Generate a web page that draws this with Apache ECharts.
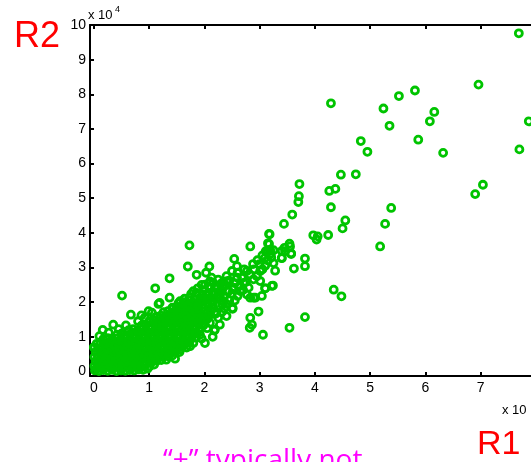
<!DOCTYPE html>
<html>
<head>
<meta charset="utf-8">
<script src="https://cdn.jsdelivr.net/npm/echarts@6/dist/echarts.min.js"></script>
<style>
html,body{margin:0;padding:0;background:#fff;}
#chart{width:531px;height:462px;}
</style>
</head>
<body>
<div id="chart"></div>
<script>
// Axis ticks (values in units of 10^4)
var xTicks = [0, 1, 2, 3, 4, 5, 6, 7];
var yTicks = [0, 1, 2, 3, 4, 5, 6, 7, 8, 9, 10];

// Dense core of the cloud [R1, R2] (x 10^4)
var corePoints = [
[0.02,0.03],[0.09,0.01],[0.17,0.04],[0.25,0.02],[0.33,0.05],[0.41,0.01],[0.49,0.03],[0.57,0.02],[0.65,0.04],[0.73,0.03],[0.81,0.06],[0.89,0.05],[0.97,0.08],
[0.01,0.16],[0.06,0.12],[0.13,0.17],[0.21,0.14],[0.29,0.18],[0.37,0.13],[0.45,0.16],[0.53,0.15],[0.61,0.18],[0.69,0.14],[0.77,0.17],[0.85,0.16],[0.93,0.19],[1.01,0.15],[1.09,0.20],
[0.03,0.29],[0.10,0.26],[0.18,0.30],[0.26,0.27],[0.34,0.31],[0.42,0.28],[0.50,0.30],[0.58,0.27],[0.66,0.31],[0.74,0.28],[0.82,0.30],[0.90,0.27],[0.98,0.32],[1.06,0.29],[1.14,0.31],[1.22,0.33],
[0.01,0.42],[0.07,0.40],[0.15,0.43],[0.23,0.41],[0.31,0.44],[0.39,0.40],[0.47,0.43],[0.55,0.42],[0.63,0.45],[0.71,0.41],[0.79,0.44],[0.87,0.42],[0.95,0.45],[1.03,0.41],[1.11,0.44],[1.19,0.42],[1.27,0.45],[1.35,0.43],[1.42,0.46],
[0.03,0.56],[0.11,0.53],[0.19,0.57],[0.27,0.54],[0.35,0.57],[0.43,0.55],[0.51,0.58],[0.59,0.54],[0.67,0.57],[0.75,0.55],[0.83,0.58],[0.91,0.54],[0.99,0.57],[1.07,0.55],[1.15,0.58],[1.23,0.54],[1.31,0.57],[1.39,0.55],[1.47,0.58],[1.55,0.56],
[0.01,0.69],[0.08,0.67],[0.16,0.70],[0.24,0.68],[0.32,0.71],[0.40,0.67],[0.48,0.70],[0.56,0.68],[0.64,0.71],[0.72,0.67],[0.80,0.70],[0.88,0.68],[0.96,0.71],[1.04,0.67],[1.12,0.70],[1.20,0.68],[1.28,0.71],[1.36,0.67],[1.44,0.70],[1.52,0.68],[1.60,0.71],[1.68,0.69],
[0.05,0.80],[0.12,0.83],[0.20,0.80],[0.28,0.82],[0.36,0.79],[0.44,0.83],[0.52,0.81],[0.60,0.84],[0.68,0.80],[0.76,0.83],[0.84,0.81],[0.92,0.84],[1.00,0.80],[1.08,0.83],[1.16,0.81],[1.24,0.84],[1.32,0.80],[1.40,0.83],[1.48,0.81],[1.56,0.84],[1.64,0.80],[1.72,0.83],[1.80,0.82],
[0.17,0.93],[0.25,0.96],[0.33,0.93],[0.41,0.95],[0.49,0.92],[0.57,0.96],[0.65,0.94],[0.73,0.97],[0.81,0.93],[0.89,0.96],[0.97,0.94],[1.05,0.97],[1.13,0.93],[1.21,0.96],[1.29,0.94],[1.37,0.97],[1.45,0.93],[1.53,0.96],[1.61,0.94],[1.69,0.97],[1.77,0.95],[1.85,0.98],
[0.42,1.06],[0.50,1.09],[0.58,1.05],[0.66,1.08],[0.74,1.06],[0.82,1.09],[0.90,1.05],[0.98,1.08],[1.06,1.06],[1.14,1.09],[1.22,1.05],[1.30,1.08],[1.38,1.06],[1.46,1.09],[1.54,1.05],[1.62,1.08],[1.70,1.06],[1.78,1.09],[1.86,1.11],
[0.63,1.19],[0.71,1.22],[0.79,1.18],[0.87,1.21],[0.95,1.19],[1.03,1.22],[1.11,1.18],[1.19,1.21],[1.27,1.19],[1.35,1.22],[1.43,1.18],[1.51,1.21],[1.59,1.19],[1.67,1.22],[1.75,1.20],[1.83,1.23],[1.91,1.21],
[0.86,1.32],[0.94,1.35],[1.02,1.31],[1.10,1.34],[1.18,1.32],[1.26,1.35],[1.34,1.31],[1.42,1.34],[1.50,1.32],[1.58,1.35],[1.66,1.31],[1.74,1.34],[1.82,1.32],[1.90,1.35],[1.98,1.33],
[1.00,1.45],[1.08,1.48],[1.16,1.44],[1.24,1.47],[1.32,1.45],[1.40,1.48],[1.48,1.44],[1.56,1.47],[1.64,1.45],[1.72,1.48],[1.80,1.44],[1.88,1.47],[1.96,1.46],[2.04,1.49],
[1.13,1.58],[1.21,1.61],[1.29,1.57],[1.37,1.60],[1.45,1.58],[1.53,1.61],[1.61,1.57],[1.69,1.60],[1.77,1.58],[1.85,1.61],[1.93,1.57],[2.01,1.60],[2.09,1.62],
[1.26,1.71],[1.34,1.74],[1.42,1.70],[1.50,1.73],[1.58,1.71],[1.66,1.74],[1.74,1.70],[1.82,1.73],[1.90,1.71],[1.98,1.74],[2.06,1.72],
[1.42,1.84],[1.50,1.87],[1.58,1.83],[1.66,1.86],[1.74,1.84],[1.82,1.87],[1.90,1.83],[1.98,1.86],[2.08,1.88],[2.16,1.85],
[1.53,1.97],[1.62,2.00],[1.70,1.96],[1.79,1.99],[1.88,1.97],[1.97,2.01],[2.06,1.98],[2.15,2.02],
[1.64,2.10],[1.73,2.13],[1.82,2.09],[1.92,2.12],[2.02,2.10],[2.12,2.14],[2.22,2.12],
[1.76,2.24],[1.86,2.27],[1.96,2.23],[2.07,2.26],[2.18,2.25],[2.30,2.28],
[0.05,0.09],[0.21,0.36],[0.46,0.62],[0.62,0.88],[0.78,0.62],[0.94,0.88],[1.10,1.00],[1.26,0.90],[0.54,0.99],[0.70,1.13],
[1.02,0.74],[1.18,0.50],[1.34,0.77],[1.50,1.02],[1.66,1.14],[1.24,1.28],[1.40,1.52],[1.70,1.38],[1.86,1.53],[1.56,1.67]
];

// Rings along the edges of the core
var edgePoints = [
[0.00,0.70],[0.16,1.20],[0.10,1.02],[0.27,1.12],[0.35,1.35],[0.45,1.22],[0.58,1.33],[0.67,1.64],[0.51,2.19],
[0.80,1.45],[0.92,1.55],[0.86,1.62],[0.99,1.74],[1.05,1.70],[1.17,1.95],[1.19,1.98],[1.11,2.40],[1.37,2.13],
[1.31,0.34],[1.47,0.37],[1.56,0.63],[1.74,0.73],[1.68,0.97],[1.92,1.06],[2.01,0.82],[1.83,1.26],[2.18,1.18],
[2.28,1.35],[2.19,1.66],[2.04,1.55],[2.10,1.40],[2.25,1.55],[2.32,1.72],[2.40,1.60],[1.95,0.95],[2.05,1.25],
[2.15,1.00],[1.89,1.93],[1.56,2.03],[1.44,1.83],[1.74,1.74],[1.56,1.83],[2.22,1.69],[2.19,1.21]
];

// Middle band of the cloud
var midPoints = [
[1.37,2.69],[1.73,3.64],[1.70,3.03],[1.86,2.79],[2.03,2.85],[2.09,3.03],[2.13,2.71],[2.16,2.56],[2.01,2.51],
[2.19,2.40],[2.28,2.13],[2.32,1.93],[2.04,2.22],[1.92,2.03],[1.80,2.32],[1.74,2.13],[2.34,2.03],[2.51,1.83],
[2.51,1.81],[2.98,1.73],[2.83,1.55],[2.82,1.26],[2.86,1.35],[3.06,1.06],[2.89,2.13],[3.04,2.18],[3.22,2.47],
[3.10,2.40],[2.65,2.32],[2.77,2.22],[2.52,2.42],[2.52,2.37],[2.41,2.61],[2.32,2.56],[2.34,2.42],[2.71,2.56],
[2.54,3.25],[2.59,3.04],[2.50,2.90],[2.59,2.71],[2.77,2.90],[2.80,2.42],[2.83,2.13],[2.92,2.13],[3.01,2.90],
[2.89,2.66],[3.01,2.61],[3.24,2.48],[3.10,2.40],[2.83,3.61],[3.17,3.97],[3.17,3.68],[3.15,3.47],[3.11,3.47],
[3.21,3.29],[3.09,3.27],[2.96,3.21],[3.40,3.27],[3.46,3.47],[3.55,3.61],[3.57,3.39],[3.28,2.91],[3.25,3.13],
[3.62,2.97],[3.82,3.26],[3.82,3.04],[3.54,3.69],[3.45,3.57],[3.40,3.48],[3.57,3.41],[3.40,3.28],[3.54,1.26],
[3.82,1.57],[3.97,3.93],[4.05,3.90],[4.03,3.81],[4.24,3.94],[3.18,3.96],[3.15,3.70],[3.19,3.51],
[2.00,2.35],[2.08,2.45],[2.15,2.30],[2.22,2.48],[2.10,2.60],[2.25,2.65],[2.30,2.35],[2.38,2.50],[2.45,2.62],
[2.40,2.75],[2.55,2.55],[2.60,2.85],[2.68,2.70],[2.75,2.58],[2.72,2.95],[2.82,2.80],[2.90,2.95],[2.88,3.10],
[2.95,2.75],[3.05,2.95],[3.00,3.10],[3.10,3.05],[3.15,3.20],[3.20,3.40],[3.25,3.50],[3.05,3.35],[2.25,1.90],
[2.35,2.15],[2.45,2.05],[2.12,1.75],[2.05,2.10],[1.95,2.50],[1.88,2.40],[2.50,2.25],[2.62,2.45],[2.70,2.35],
[2.55,2.05],[2.40,1.95],[2.26,2.22],[2.44,2.32],[2.36,1.82],[2.60,2.18],[2.14,1.92]
];

// Sparse outliers
var outlierPoints = [
[7.69,9.76],[6.96,8.28],[5.81,8.11],[5.52,7.95],[4.29,7.74],[5.24,7.59],[6.16,7.49],[6.08,7.22],[7.87,7.22],
[5.35,7.09],[5.87,6.69],[4.83,6.65],[7.70,6.41],[4.95,6.34],[6.32,6.31],[4.74,5.69],[4.47,5.68],[3.72,5.41],
[7.04,5.39],[4.37,5.27],[4.26,5.21],[6.90,5.12],[3.71,5.06],[3.70,4.89],[4.29,4.74],[5.38,4.72],[3.59,4.53],
[4.55,4.36],[3.44,4.26],[5.27,4.26],[4.50,4.13],[5.18,3.61],[4.34,2.36],[4.48,2.17]
];

var allPoints = corePoints.concat(edgePoints, midPoints, outlierPoints);

var GREEN = '#00c400';
var chart = echarts.init(document.getElementById('chart'), null, {renderer: 'canvas'});
var axisFont = {color: '#000', fontFamily: 'Liberation Sans, Arial, sans-serif', fontSize: 14};
var lineStyle = {color: '#000', width: 2};
var X_MIN = -0.07, X_MAX = 7.91, Y_MIN = -0.13, Y_MAX = 10;

chart.setOption({
  animation: false,
  backgroundColor: '#fff',
  grid: {left: 90, top: 25, right: 0, height: 351, containLabel: false},
  xAxis: [{
    type: 'value', min: X_MIN, max: X_MAX, position: 'bottom',
    axisLine: {show: true, onZero: false, lineStyle: lineStyle},
    axisTick: {show: true, inside: true, length: 4, customValues: xTicks, lineStyle: lineStyle},
    axisLabel: Object.assign({show: true, margin: 5, customValues: xTicks,
      formatter: function (v) { return String(Math.round(v)); }}, axisFont),
    splitLine: {show: false}
  }, {
    type: 'value', min: X_MIN, max: X_MAX, position: 'top',
    axisLine: {show: true, onZero: false, lineStyle: lineStyle},
    axisTick: {show: true, inside: true, length: 4, customValues: xTicks, lineStyle: lineStyle},
    axisLabel: {show: false},
    splitLine: {show: false}
  }],
  yAxis: [{
    type: 'value', min: Y_MIN, max: Y_MAX, position: 'left',
    axisLine: {show: true, onZero: false, lineStyle: lineStyle},
    axisTick: {show: true, inside: true, length: 4, customValues: yTicks, lineStyle: lineStyle},
    axisLabel: Object.assign({show: true, margin: 4, customValues: yTicks,
      formatter: function (v) { return String(Math.round(v)); }}, axisFont),
    splitLine: {show: false}
  }],
  series: [{
    type: 'scatter',
    xAxisIndex: 0, yAxisIndex: 0,
    data: allPoints,
    symbol: 'circle',
    symbolSize: 7,
    silent: true,
    clip: false,
    itemStyle: {color: 'rgba(0,0,0,0)', borderColor: GREEN, borderWidth: 2.8, opacity: 1}
  }],
  graphic: [
    {type: 'text', left: 14, top: 19, style: {text: 'R2', fill: '#ff0000', font: '36px "Liberation Sans", Arial, sans-serif'}},
    {type: 'text', left: 88, top: 9, style: {text: 'x 10', fill: '#000', font: '13px "Liberation Sans", Arial, sans-serif'}},
    {type: 'text', left: 115, top: 5, style: {text: '4', fill: '#000', font: '9px "Liberation Sans", Arial, sans-serif'}},
    {type: 'text', left: 502, top: 404, style: {text: 'x 10', fill: '#000', font: '13px "Liberation Sans", Arial, sans-serif'}},
    {type: 'text', left: 477, top: 428, style: {text: 'R1', fill: '#ff0000', font: '34px "Liberation Sans", Arial, sans-serif'}},
    {type: 'text', left: 163, top: 447, style: {text: '\u201c+\u201d typically not', fill: '#ff00ff', font: '28px "Open Sans", "Noto Sans", sans-serif'}}
  ]
});
</script>
</body>
</html>
